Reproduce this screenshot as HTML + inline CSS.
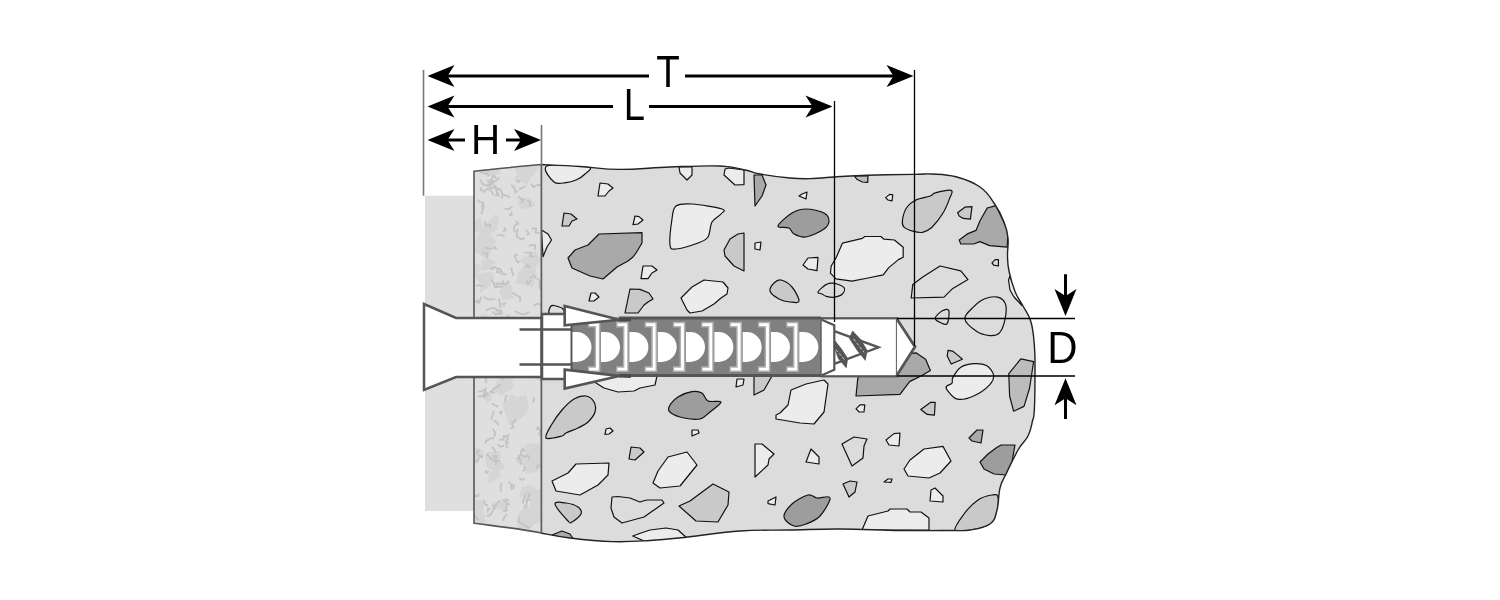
<!DOCTYPE html>
<html><head><meta charset="utf-8"><style>
html,body{margin:0;padding:0;background:#fff;width:1500px;height:600px;overflow:hidden}
svg{display:block;filter:grayscale(1)}
</style></head><body>
<svg width="1500" height="600" viewBox="0 0 1500 600">
<defs>
<filter id="tex" x="0" y="0" width="100%" height="100%">
<feTurbulence type="fractalNoise" baseFrequency="0.06" numOctaves="2" seed="3"/>
<feColorMatrix type="matrix" values="0 0 0 0 0.85  0 0 0 0 0.85  0 0 0 0 0.85  2.5 0 0 0 -1"/>
</filter>
<clipPath id="pc"><path d="M474,171.2 C500,169 520,166 541.5,164.5 L541.5,533 C515,528 495,526 474,523.2Z"/></clipPath>
<clipPath id="cc"><path d="M541,164.5 C548.8,164.9 564.2,165.5 580,166.5 C595.8,167.5 602,169.3 620,169.4 C638,169.5 650,167.7 670,167 C690,166.3 705,165.4 720,166 C735,166.6 737,168.4 745,170 C753,171.6 751,172.4 760,174 C769,175.6 780,177.1 790,178 C800,178.9 800,178.9 810,178.6 C820,178.3 828.4,177.2 840,176.5 C851.6,175.8 853.2,175.6 868,175.2 C882.8,174.8 901.2,174.6 914,174.4 C926.8,174.2 923.6,173.5 932,174 C940.4,174.5 946.4,174.2 956,176.8 C965.6,179.4 972.4,181.8 980,187 C987.6,192.2 989.2,196 994,203 C998.8,210 1001.2,215 1004,222 C1006.8,229 1007.3,231.2 1008,238 C1008.7,244.8 1007.3,249.4 1007.5,256 C1007.7,262.6 1007.5,263.9 1009,271 C1010.5,278.1 1012.2,284.6 1015,291.6 C1017.8,298.6 1019.8,299.9 1023,306 C1026.2,312.1 1028.7,314 1031,322 C1033.3,330 1033.6,336.4 1034.4,346 C1035.2,355.6 1035,357.4 1035,370 C1035,382.6 1034.9,398.8 1034.4,409 C1033.9,419.2 1033.8,415.6 1032.5,421 C1031.2,426.4 1030.9,430.2 1028,436 C1025.1,441.8 1022.4,442.4 1018,450 C1013.6,457.6 1009.6,466.4 1006,474 C1002.4,481.6 1001.8,480.8 1000,488 C998.2,495.2 999,502.8 997,510 C995,517.2 995.4,520 990,524 C984.6,528 978,528.7 970,530 C962,531.3 964,530.4 950,530.5 C936,530.6 922,530.8 900,530.5 C878,530.2 862,529.1 840,529 C818,528.9 810,529.6 790,530 C770,530.4 760.4,529.6 740,531 C719.6,532.4 706,535.1 688,537 C670,538.9 665.2,539.6 650,540.5 C634.8,541.4 628,542.1 612,541.6 C596,541.1 584.2,539.7 570,538 C555.8,536.3 546.8,534 541,533Z"/></clipPath>
</defs>
<rect x="425" y="195.7" width="49" height="315.3" fill="#dfdfdf"/>
<path d="M474,171.2 C500,169 520,166 541.5,164.5 L541.5,533 C515,528 495,526 474,523.2Z" fill="#dfdfdf"/>
<g clip-path="url(#pc)"><path d="M499.6,220.9 L497.6,225.9 L490.8,225.2 L490.7,219.4 L496.3,213.4Z M493.6,246.7 L486.6,258.7 L474.3,252.3 L471.6,244.4 L482.8,241.3Z M520.1,402.2 L517.1,406.5 L511.8,408.9 L506,405.3 L509.1,399.7 L510.5,394.3 L515.7,396.8Z M512,293.5 L514.2,298.5 L508.7,299.6 L502.8,299.8 L499,290.8 L503.7,286.6 L508.1,283.8 L512.6,287.1Z M545.9,511.1 L542.2,521.9 L531.9,525 L521.2,523.6 L517.7,515.9 L523.7,506.7 L533,506.3 L541.2,503.9Z M506.2,504 L503.9,510.8 L498.8,509 L496.3,508.2 L491.6,502.3 L496.2,501.9 L499.1,499.7 L504.4,499.6Z M497.8,167.1 L500.6,173.3 L486.8,177.2 L482.2,172.1 L476.4,163.5 L483.3,158.5 L489.2,157.7 L495.9,160.2Z M488.3,528.9 L488.4,531.5 L485.7,535.1 L480,537.2 L479.7,529 L479.6,525.9 L483.9,524.9 L492.4,524.1Z M512.8,345.2 L507.4,351.3 L501,346.8 L501.4,339.5 L508.7,335.8Z M536.5,273.9 L533.6,287.2 L515.6,283.2 L519.7,271.1 L534.4,261.4Z M545.4,461.4 L539,467.5 L536.5,472 L526,473.9 L523.5,460.3 L525.8,449.1 L536.6,453.6 L538.9,456.2Z M496.5,241.7 L490.4,249.6 L474,245 L478.3,234.2 L486.2,229Z M500.7,462.1 L505.9,468.5 L497.7,470.8 L487.7,468.8 L485,460.6 L485.8,452.5 L493,452 L500.5,451.1Z M535.7,205.6 L528.9,208.4 L521.8,209.3 L517.5,202.7 L521.2,198 L529.9,197.5Z M512.3,382.7 L514.6,387.5 L501,395.5 L493,390.8 L496.3,382.6 L499.1,374.8 L500.7,367.3 L512.9,372.6Z M537.4,490.6 L530.6,499.2 L519.2,496.4 L521.5,487.2 L530.6,484.7Z M531.6,330.9 L528.9,343.5 L518.7,344.8 L516.8,339.8 L513.4,332.8 L513.4,325.5 L521.6,325.3 L525.9,327.4Z M537.3,514.7 L535.1,518.7 L527.2,519 L519.9,513.9 L522.3,511.1 L527.1,507.1 L530.9,507.8Z M531.5,170 L530.1,179.1 L527.5,184.6 L513.7,179.5 L517.3,173.9 L514.4,166.8 L523.3,166.3 L532.4,163.2Z M541.1,260.8 L536,267 L526.9,266 L523.9,258.9 L526.9,256.4 L535.4,250.8Z M496.1,261.9 L487.1,270 L480.6,269.8 L481.4,260.2 L487.3,257.4Z M494.2,278.8 L489.3,286.9 L479.6,293.3 L481,284.1 L472.7,274.4 L483.5,273.1 L491.8,271.6Z M528.6,406.8 L526.6,413.6 L515.1,423.4 L508.5,423.9 L502.2,403 L505.8,400.9 L521.6,395.8 L526.3,394.7Z M504.6,352.9 L504.8,357.5 L499.2,361.2 L486.1,359.9 L492.9,350.2 L498.6,344.5 L502.6,344.4Z M480.9,269 L477.9,273 L472.6,273.8 L468.1,269.2 L469,260.7 L479.7,264.4Z M548.4,456.6 L547.1,462.9 L540.1,469.7 L527.7,462.3 L523.3,455.7 L525.8,443.9 L538.8,442.9 L542.4,451.4Z M528.1,458.4 L522.8,465.5 L519.7,463.5 L515.5,462 L518.5,456.5 L523.3,456.9Z M552.5,493.9 L542.9,503.2 L530.6,506.2 L528.2,491.5 L546,488.4Z M511.7,343.2 L505.1,347 L497.6,356.3 L488.3,348.8 L491.7,341.1 L493.9,329.7 L508.2,332.8Z M504.8,358.2 L497.1,361.7 L494,364.8 L488.3,360.6 L478.6,356.1 L487.9,348.8 L494.9,343.8 L494.8,351.1Z M532.5,263.1 L529.3,268.8 L525.5,270.6 L522.7,263.5 L519.7,260.9 L524.7,256.7 L528.5,256.9Z M501,475.2 L494,481.7 L487.8,483.6 L489.3,473.6 L496.3,465.5Z M483.1,506.4 L483.2,519 L475.5,524.9 L466.6,512.2 L463.1,498.5 L473.8,500.5 L484,499.8Z M548.7,366.4 L542.9,381.7 L530.5,377.5 L520.8,374.2 L528.2,362 L539.5,361.7Z M533.9,524.9 L528.5,531.1 L523.8,531.4 L515.4,531 L518,522.4 L522,516.1 L530.8,518.9Z M498.5,228.8 L490.5,233.7 L481.7,232.5 L484.1,225.5 L490,220Z M514.5,377.5 L509.5,381.8 L506.9,382.4 L502,380.5 L501,371.9 L507.4,373.8 L510.3,370.4Z M544.6,339.6 L541.1,346 L536,344.1 L535.2,343.3 L530.9,340 L534,334.5 L537.8,333.5 L541.1,336Z M484.4,451.2 L475.7,465.3 L468.1,462.6 L466.6,453.4 L464.6,443.3 L475.6,447Z M540.5,163.9 L534,174.7 L525.9,179.1 L520,173.7 L522.3,161.2 L522.1,148.8 L535.1,159.3Z M493,320.3 L492.6,328.3 L486.7,331.1 L480.2,324.2 L477.2,319.2 L484,313.2 L489.8,317.3Z M537,276.5 L530.3,279.5 L526.2,288.3 L524.1,279.3 L517.5,273.6 L522.5,268.2 L526.7,261.8 L531.3,268.8Z M484.1,228.5 L481.7,231.8 L473.3,231.8 L471.1,226.8 L471.9,222.5 L480,217.5Z M486.2,522.9 L481.1,526.8 L475.6,526.7 L471.2,521.6 L473.2,513.5 L483.9,513.5Z M492,395.4 L490.9,400.3 L487.5,404.1 L485.7,399.9 L482.5,394.7 L483.1,392.3 L488.1,391.8 L491.9,390.2Z" fill="#d5d5d5"/>
<path d="M533,396.9 L534.3,399.3 L532.7,402.6 M524.6,451.4 L522.5,448.3 L520.7,452.8 L522.6,456.5 M487.1,257.6 L487.5,253.2 L484.5,253.8 L482.6,251.3 M481.9,186.9 L480.5,190.1 L483.1,190.8 L485.2,192.9 M503.3,521 L504,517.5 L506.9,514.4 M522.9,471.4 L524.9,469 L524.1,465.9 M493.2,266.1 L493,269 L489.2,268.3 M497.6,313.6 L501.7,313.9 L501.3,310.3 L499.2,311.7 L497.8,308.9 M504.9,305.9 L502.6,304 L506.3,302.5 M533.8,305.3 L537.9,303.6 L540.3,304.4 L542.8,307.9 M499,188.1 L501.1,190.4 L502.3,194.4 M490.2,179 L490.5,183 L492.9,182.1 L496.4,180.7 L499.5,177.5 M517.8,229.1 L516.6,233.1 L516.9,236.3 L520.8,239.2 L524.7,238.5 M499.4,320.8 L502.8,320 L506.7,317.1 L508.5,314.8 M484.8,206.7 L482,205.8 L483,209.5 L481.3,214 M483.3,392.8 L485.5,395.4 L487.9,393.7 L485.1,391.7 L485.9,387.3 M526.3,280.6 L528.1,283.8 L531.1,280 M501.3,491.5 L500.4,486.9 L501.7,483.1 M489.8,340.5 L486,340.7 L483.6,342.1 M492.8,428.7 L495.2,432.7 L494.2,436.7 M497.5,311.4 L495,308.1 L491.9,307.8 L488.8,309.1 L486,310.2 M478.2,520.1 L475.6,516.6 L473.4,514.5 L471.2,512.9 M485.7,325.7 L489.1,328 L489.5,325.2 L492.5,326.6 M521.2,203 L524,199.5 L521.4,199.1 L518.1,196.5 M484.6,221.1 L485.9,225.7 L490.3,224.8 L489.9,227.5 M499.1,439.7 L503.6,439.7 L503.6,435.9 L506.5,436.8 L509.3,434.2 M497.1,187.9 L496.6,191 L498.5,193.9 M525.5,267.5 L527.7,264.9 L530.5,267.7 M512.8,483.9 L514,487.2 L511.4,489 L511.3,485 L508.7,481.5 M504.5,236.9 L501.5,234.6 L496.7,235.6 M530.2,500 L527.7,499.2 L526.5,503.1 L526.4,506.8 L523.6,506.3 M491.6,403.6 L494.6,405 L497.9,406.9 M502.8,280.4 L503.5,284 L508.2,283 L508.8,280.2 M483.7,398.4 L484.8,395.4 L480.8,396.4 L477.4,396.3 M516.7,330.3 L519.4,329.1 L517.1,327.8 L517.1,330.8 L521.9,331.1 M484.3,389.4 L481.8,391.1 L478.1,391.5 M516.5,459.7 L519.3,456.7 L520.2,460.9 L521.4,464.6 M500.5,327.8 L503.7,329.6 L505.8,327.8 M491.9,188.6 L488.7,185 L486.1,185.5 L482.2,183.9 L480.5,179.4 M536.3,278.5 L533.9,275.6 L529.9,278.2 M528.5,246 L531.8,244.8 L535.2,245.1 L534.9,249.9 M536.9,469.5 L537.5,465.3 L541.1,465.9 L542.7,469.5 M496.5,249.2 L495,246.6 L493.5,249 M515.3,231.6 L513.7,229.6 L514.6,225.6 L518.4,223.5 L515.4,220.8 M499.8,461.1 L495.2,460.7 L496.8,456.1 L493.9,455.6 L493.7,458.1 M528.9,459.2 L528.3,455.6 L523.9,456.4 L521,455 L518,455.8 M499.1,500.5 L496.8,504.3 L493.7,506.4 L493.5,510.7 M525.3,185.9 L521.7,188.2 L518.9,189.4 M529.7,206.8 L530.3,203 L527.3,199.9 M481.2,296.7 L480.3,299.5 L479.2,302.7 L476.1,302.1 L477.9,299.4 M490.9,419.8 L492.4,415.7 L493.9,410.9 M511.7,211.6 L511.5,215.1 L508.8,214.6 M531.3,183.8 L533.5,187 L537.9,184.8 L542.7,185.3 M485.6,382.9 L486.5,379.7 L485.1,377.1 L488.6,374.9 L491.2,376.3 M504.3,445.7 L500.3,446.7 L497.3,444.4 M494,439.2 L491.6,437.7 L488.8,439.5 L486.2,440.9 L485.2,443.7 M536.5,430.1 L538,427 L540.4,430.8 L538.8,434 L541.9,436.6 M484.4,247.3 L488.8,248.6 L491.9,248.6 M536.9,278.7 L539.8,280.6 L539.4,285.4 L540.2,289.2 M522.9,322.4 L520.6,326.4 L516.9,328 L517,331 L520.6,330.6 M493.6,420.2 L497.2,422.6 L498.5,425.4 M503.4,334.3 L500.6,331.2 L504.4,328.3 L504.8,325.8 M527.9,492.9 L529.8,495.1 L527.4,499.3 L525.8,501.5 M512.5,364.4 L509.2,367.5 L508.5,370.7 L505,371.7 L505.9,368.9 M508.8,501.4 L507,499.5 L503.6,500.2 L506,502.8 L509.8,504.7 M499.1,267.8 L501.9,271.8 L496.9,272.3 L498.2,268.9 L493.9,266.8 M482.1,454.4 L482.4,457.5 L479.3,456.2 L476.8,452.4 L479.5,449.9 M495.7,366.9 L500.2,367.6 L502.4,364.9 L501.1,361.6 M489.2,175.9 L486.2,173.1 L482.5,173.2 L480.1,171.8 M531.8,228.5 L536.4,228.3 L535.6,232.7 L540.2,233.4 M516,180.2 L518.3,182.4 L519.8,180 M492,446.7 L494.2,449.4 L496.2,452.9 M519.3,517 L518.1,521.4 L521.8,523.5 L525.3,526.1 L529.7,527.8 M511.3,267.6 L512.1,271.4 L513.5,275.9 M520,261.3 L517.8,262.5 L515.8,259.5 L514.6,255.5 L517.7,254.2 M503.1,511.2 L507.2,510.6 L505.6,508.6 L507.3,503.9 L510,504.3 M507.1,440 L505.9,443.9 L507.7,448.2 M500,341.1 L497.6,343.5 L498.4,346 M495.3,299.3 L492.2,299.4 L487.2,299.4 L483.8,296.5 M497.9,286 L496,284 L499.5,283.5 L503,283.9 L506.1,285.3 M484.5,191.2 L487.8,188.8 L491.7,191.6 L493.4,195.2 M515.6,418.7 L514.7,421.2 L511.5,423.6 L513.5,427.3 L510.3,428.8 M484,500.7 L484.9,504.5 L488,505.4 M503.3,286.5 L498.5,286.9 L494.8,287.3 L493.7,283 L491.3,279.5 M502.3,198.5 L502.1,193.7 L505.3,195.5 L508.1,195.8 L510.3,197.9 M487.1,180.4 L490.7,183.9 L488.5,186.1 L491.4,188.4 L495.1,187.2 M505,435.5 L508.3,438.3 L505.5,441.6 L509.1,443.3 M520.6,336.2 L521,338.8 L523.1,337.2 L525.3,340.7 M515.1,311.1 L519.2,313.3 L521.6,314.4 L525.5,313.9 L529.3,312.1 M486.7,454.1 L489.8,457.3 L493.2,460.2 L496,461.7 L495.9,465 M494.8,392.6 L490.9,391.8 L493.9,388.4 L497,387.2 L500.6,384.1 M500.6,414.7 L501.9,411.8 L498.8,412.4 M503.4,380.3 L501.9,377.8 L506.6,376 M486.8,516.4 L491.1,514.2 L492.2,511.8 L495,508.3 L492.4,504.8 M533.9,256.9 L529.7,256 L531.7,252.6 L528.2,252.8 L524.4,252.4 M499.3,196.9 L497.2,192.7 L495.9,189.3 L495.9,186.3 L493.1,185.6 M520.1,302 L520.4,297.4 L516.2,295 L512.1,292.8 M500.3,337.2 L502.3,339.9 L503.6,342.1 L506.2,337.8 M530,345.2 L532.1,342.8 L528.9,341 L526.5,337.8 M485.9,470.3 L485.8,472.9 L488.9,471.4 M520.3,345.4 L523.7,347.8 L520.3,350.4 M483.4,286.5 L479.4,285.2 L475.9,285.7 M487.6,513 L487.9,508.2 L490.3,509.3 M511.2,184.7 L514.3,187.6 L515.2,192.5 L517.6,191 M523.3,503.8 L523.1,500.2 L525.1,497.2 L525.3,493.7 M500.5,307.9 L499.9,303.2 L498.7,298.6 M525.9,229.9 L529,233.5 L526.6,235 M504.8,208.9 L508.4,209.4 L512.2,206.8 M506.7,394.9 L505.6,397.6 L504.9,402.3 M504.3,227.3 L505.7,230.1 L502.9,231.8 M488.1,346.9 L492.8,348.3 L492.4,343.6 L494.3,341.2 M506.6,275.2 L503.6,273.3 L500.9,274.8 M492.3,311.6 L495.7,314.2 L500.5,313 M479,457.5 L477.6,461.7 L475.1,459.6 M499.6,189.2 L496.9,189.9 L497.3,194.3 L495.1,196.3 M482.8,205.6 L483.5,202.8 L479.4,201.8 L477.4,199.7 M496.5,178.5 L493.5,175.4 L491.7,179.6 L493.1,183.9 L489.5,185 M478.9,493.6 L477.8,496.3 L474.5,495.4 L473.3,498.6 L471.5,500.3 M509.2,331 L506.5,332.6 L503.6,328.8 M524.7,478.8 L522.2,480 L519.2,478" fill="none" stroke="#c3c3c3" stroke-width="1.8" stroke-linejoin="round"/></g>
<path d="M474,171.2 C500,169 520,166 541.5,164.5 L541.5,533 C515,528 495,526 474,523.2Z" fill="none" stroke="#555" stroke-width="1.6"/>
<path d="M541,164.5 C548.8,164.9 564.2,165.5 580,166.5 C595.8,167.5 602,169.3 620,169.4 C638,169.5 650,167.7 670,167 C690,166.3 705,165.4 720,166 C735,166.6 737,168.4 745,170 C753,171.6 751,172.4 760,174 C769,175.6 780,177.1 790,178 C800,178.9 800,178.9 810,178.6 C820,178.3 828.4,177.2 840,176.5 C851.6,175.8 853.2,175.6 868,175.2 C882.8,174.8 901.2,174.6 914,174.4 C926.8,174.2 923.6,173.5 932,174 C940.4,174.5 946.4,174.2 956,176.8 C965.6,179.4 972.4,181.8 980,187 C987.6,192.2 989.2,196 994,203 C998.8,210 1001.2,215 1004,222 C1006.8,229 1007.3,231.2 1008,238 C1008.7,244.8 1007.3,249.4 1007.5,256 C1007.7,262.6 1007.5,263.9 1009,271 C1010.5,278.1 1012.2,284.6 1015,291.6 C1017.8,298.6 1019.8,299.9 1023,306 C1026.2,312.1 1028.7,314 1031,322 C1033.3,330 1033.6,336.4 1034.4,346 C1035.2,355.6 1035,357.4 1035,370 C1035,382.6 1034.9,398.8 1034.4,409 C1033.9,419.2 1033.8,415.6 1032.5,421 C1031.2,426.4 1030.9,430.2 1028,436 C1025.1,441.8 1022.4,442.4 1018,450 C1013.6,457.6 1009.6,466.4 1006,474 C1002.4,481.6 1001.8,480.8 1000,488 C998.2,495.2 999,502.8 997,510 C995,517.2 995.4,520 990,524 C984.6,528 978,528.7 970,530 C962,531.3 964,530.4 950,530.5 C936,530.6 922,530.8 900,530.5 C878,530.2 862,529.1 840,529 C818,528.9 810,529.6 790,530 C770,530.4 760.4,529.6 740,531 C719.6,532.4 706,535.1 688,537 C670,538.9 665.2,539.6 650,540.5 C634.8,541.4 628,542.1 612,541.6 C596,541.1 584.2,539.7 570,538 C555.8,536.3 546.8,534 541,533Z" fill="#dcdcdc"/>
<g stroke="#111" stroke-width="1.2" stroke-linejoin="round" clip-path="url(#cc)">
<path d="M547,166 C541.3,168.5 550.8,179.2 554,182 C557.2,184.8 562.3,182.9 566,182.6 C569.7,182.3 572.8,181.4 576,180 C579.2,178.6 583,176.2 585,174 C587,171.8 594.3,168.3 588,167 C581.7,165.7 552.7,163.5 547,166Z" fill="#ececec"/>
<path d="M600,183 L598,196 L605,196 L609,191 L613,188 L608,184Z" fill="#ececec"/>
<path d="M564,213 L562,226 L569,226 L572,221 L577,219 L571,214Z" fill="#c9c9c9"/>
<path d="M635,216 L633,224.6 L638,224 L643,220 L639,216.6Z" fill="#ececec"/>
<path d="M568,258 L575,250 L588,245 L599,234 L642,232.7 L642,243 L636,253 L633,257 L628,261 L617,267 L603,279 L590,276 L572,268Z" fill="#a9a9a9"/>
<path d="M541.5,230 L548,234 L551.5,240 L547,247 L543,256.7Z" fill="#ececec"/>
<path d="M676,206 C679.3,203.5 684.3,203.5 692,204 C699.7,204.5 717.2,207.3 722,209 C726.8,210.7 722.7,211.8 721,214 C719.3,216.2 714.2,218.2 712,222 C709.8,225.8 710.3,233.5 708,237 C705.7,240.5 703.3,241 698,243 C692.7,245 680.7,248.7 676,249 C671.3,249.3 670.7,250 670,245 C669.3,240 671,225.5 672,219 C673,212.5 672.7,208.5 676,206Z" fill="#ececec"/>
<path d="M679,167 L680,173 L687,180 L692,175 L692,167Z" fill="#ececec"/>
<path d="M725,169 L724,175 L735,185 L744,184.6 L744,170 L729,168Z" fill="#ececec"/>
<path d="M754,175 L755,206 L762,196 L766,185 L762,175Z" fill="#a9a9a9"/>
<path d="M799,196 L806,199 L807,192 L802,194Z" fill="#ececec"/>
<path d="M778,226 C778.5,223.5 787.3,215.8 792,213 C796.7,210.2 800.7,209 806,209 C811.3,209 820.2,211 824,213 C827.8,215 829,218.3 829,221 C829,223.7 827.8,226.3 824,229 C820.2,231.7 811,236.2 806,237 C801,237.8 796.8,235.5 794,234 C791.2,232.5 791.7,229.3 789,228 C786.3,226.7 777.5,228.5 778,226Z" fill="#9d9d9d"/>
<path d="M744,233 L744,271 L734,266 L725,256 L724,250 L730,239 L738,234Z" fill="#c9c9c9"/>
<path d="M755,243 L761,242 L760,250 L755,249Z" fill="#ececec"/>
<path d="M808,258 L818,257.4 L817,270.6 L808,269 L803,265Z" fill="#ececec"/>
<path d="M643,266 L641,278.6 L648,278.6 L652,273 L657,270 L652,266Z" fill="#ececec"/>
<path d="M591,293 L589,301 L594,301 L599,297 L595,293Z" fill="#ececec"/>
<path d="M630,289 L625,313 L638,313 L644,305 L648,302 L653,299 L649,293 L640,289.4Z" fill="#c9c9c9"/>
<path d="M551,306 C549.9,307.3 547.5,312.7 549.5,314 C551.5,315.3 560.8,314.8 563,314 C565.2,313.2 564.2,310.3 563,309 C561.8,307.7 558,306.5 556,306 C554,305.5 552.1,304.7 551,306Z" fill="#dcdcdc"/>
<path d="M704,280 L723,282 L728,288 L727,294 L721,298 L714,304 L702,311 L690,313 L687,310 L681,298 L692,287Z" fill="#ececec"/>
<path d="M781,280 C784,280.7 789,283.5 792,287 C795,290.5 799.3,298.5 799,301 C798.7,303.5 793.3,302.3 790,302 C786.7,301.7 782.3,300.8 779,299 C775.7,297.2 770.8,293.7 770,291 C769.2,288.3 772.2,284.8 774,283 C775.8,281.2 778,279.3 781,280Z" fill="#c9c9c9"/>
<path d="M818,292 C818.7,290.4 823.7,285.8 826.4,284.4 C829.1,282.9 831.5,282.8 834.4,283.3 C837.3,283.8 842.7,285.8 844,287.6 C845.3,289.4 844,292.4 842.4,294 C840.8,295.6 837.1,296.8 834.4,297.2 C831.7,297.6 828.5,296.9 826.4,296.4 C824.3,295.9 823.4,294.7 822,294 C820.6,293.3 817.3,293.6 818,292Z" fill="#dcdcdc"/>
<path d="M854.4,176 L856.8,179.2 L862.4,182 L867.7,182.4 L868,176Z" fill="#bdbdbd"/>
<path d="M885.6,197.6 L889.6,194.4 L892.8,194.9 L892,200.8 L888,200Z" fill="#ececec"/>
<path d="M902.4,220.8 C902.8,217.6 904.1,211.5 906.4,208 C908.7,204.5 912,202 916,200 C920,198 927.2,197.2 930.4,196 C933.6,194.8 931.7,193.7 935.2,192.8 C938.7,191.9 948.8,189.5 951.2,190.4 C953.6,191.3 950.9,194.7 949.6,198.4 C948.3,202.1 946.1,208 943.2,212.8 C940.3,217.6 935.5,223.9 932,227.2 C928.5,230.4 925.6,231.6 922.4,232.3 C919.2,233 915.9,232 912.8,231.2 C909.7,230.3 905.7,228.9 904,227.2 C902.3,225.5 902,224 902.4,220.8Z" fill="#c9c9c9"/>
<path d="M957.6,212.8 L964.8,207.2 L972,206.7 L970.4,219.2 L963.2,218.4 L959.2,216Z" fill="#c9c9c9"/>
<path d="M996,205.6 L987.2,208 L980,220.8 L976,230.4 L968,233.6 L959.2,240 L960.8,244 L973.6,244 L980,241.6 L989.6,245.6 L1007.2,247.2 L1008,232 L1004,222.4Z" fill="#a9a9a9"/>
<path d="M842.4,243.2 L862.4,238.4 L864.8,236.5 L880.8,236.5 L884,239.2 L894.4,240 L903.2,247.2 L903.2,257.2 L898.4,259.6 L893.6,263.6 L888.8,267.6 L883.2,274.8 L868,278 L852,281.2 L836,278.8 L830.4,273.2 L831.2,266 L836,258Z" fill="#ececec"/>
<path d="M911.2,298 L912.8,284.4 L922.4,277.2 L940,266 L960.8,270.8 L968,279.6 L952.8,288.4 L944,297.2Z" fill="#dcdcdc"/>
<path d="M992,262.8 L995.2,259.6 L998.4,259.6 L998.4,266 L993.6,265.2Z" fill="#dcdcdc"/>
<path d="M935.2,318 C935.5,316 940.1,312.1 942.4,310.8 C944.7,309.6 948,308.4 948.8,310.5 C949.6,312.6 948.5,321.6 947.2,323.6 C945.9,325.7 942.8,323.7 940.8,322.8 C938.8,321.9 934.9,320 935.2,318Z" fill="#dcdcdc"/>
<path d="M964.8,318.8 C964.3,314.7 970.3,310.1 973.6,306.8 C976.9,303.5 980.8,300.4 984.8,298.8 C988.8,297.2 994.1,296.3 997.6,297.2 C1001.1,298.1 1004.4,300.5 1005.6,304.4 C1006.8,308.3 1005.9,315.6 1004.8,320.4 C1003.7,325.2 1001.7,330.7 999.2,333.2 C996.7,335.7 993.3,335.9 989.6,335.6 C985.9,335.3 980.9,334.4 976.8,331.6 C972.7,328.8 965.3,322.9 964.8,318.8Z" fill="#dcdcdc"/>
<path d="M1008.5,280 L1010,290 L1014,297 L1022,305.5 L1015.5,291 L1010,276Z" fill="#ececec"/>
<path d="M909.6,353.6 L916,352.8 L925.6,359.2 L930.4,370.4 L922.4,375.2 L909.6,381.6 L900,394.4 L856,396 L857.6,380 L860,370 L900,350Z" fill="#a9a9a9"/>
<path d="M948,350.4 L952.8,351.2 L956.8,354.4 L962.4,359.2 L951.2,364 L947.2,356Z" fill="#c9c9c9"/>
<path d="M952.8,377.6 C954.3,374.9 957.3,369.5 960.8,367.2 C964.3,364.9 969.3,364 973.6,363.7 C977.9,363.4 983.1,363.7 986.4,365.6 C989.7,367.5 993.1,372 993.6,375.2 C994.1,378.4 992.9,381.3 989.6,384.8 C986.3,388.3 978.9,393.6 973.6,396 C968.3,398.4 961.9,400 957.6,399.2 C953.3,398.4 949.9,393.3 948,391.2 C946.1,389.1 945.7,387.7 946.4,386.4 C947.1,385.1 950.9,384.7 952,383.2 C953.1,381.7 951.3,380.3 952.8,377.6Z" fill="#ececec"/>
<path d="M1008.8,373.6 L1020.8,358.9 L1033.6,361.6 L1029.6,388 L1024,406.4 L1013.6,411.2 L1009.6,396Z" fill="#bcbcbc"/>
<path d="M856,408.8 L860,404.8 L864.8,404.8 L864,412 L859.2,412Z" fill="#ececec"/>
<path d="M920.8,409.6 L930.4,402.4 L935.2,402.4 L934.4,415.2 L927.2,414.4Z" fill="#c9c9c9"/>
<path d="M776,415 L780,413 L788,405 L791,390 L806,384 L824,380 L828,384 L824,412 L814,424 L800,423 L776,419Z" fill="#ececec"/>
<path d="M842,444 L854,437 L867,439 L864,446 L863,458 L852,466Z" fill="#dcdcdc"/>
<path d="M886,440 L894,433.6 L900,433 L899,446 L889,445Z" fill="#ececec"/>
<path d="M904,469 L910,460 L924,449 L943,446.4 L951,461 L940,473 L929,478 L908,476Z" fill="#ececec"/>
<path d="M884,482 L888,479 L892,479 L891,482.4Z" fill="#ececec"/>
<path d="M843,484 L850,481 L857,482 L855,492 L849,497Z" fill="#c9c9c9"/>
<path d="M931,490 L935,488 L943,496 L943,502 L930,501Z" fill="#ececec"/>
<path d="M862,530 L868,516 L888,511 L890,509 L907,509 L910,512 L921,512 L929,518 L929,530Z" fill="#ececec"/>
<path d="M955,531 C953,528.5 960.2,519.2 964,514 C967.8,508.8 973.3,503.2 978,500 C982.7,496.8 988.7,495.5 992,495 C995.3,494.5 997.2,493.8 998,497 C998.8,500.2 997.7,509.8 997,514 C996.3,518.2 997.5,519.5 994,522 C990.5,524.5 982.5,527.5 976,529 C969.5,530.5 957,533.5 955,531Z" fill="#c9c9c9"/>
<path d="M980,462 L988,454 L996,448 L1001,445 L1015,445 L1012,462 L1006,475 L994,474 L984,469Z" fill="#9d9d9d"/>
<path d="M969,438 L977,430 L983,430 L981,443 L972,441Z" fill="#a9a9a9"/>
<path d="M596,383 L604,388 L618,392 L634,391 L640,388 L655,385 L657,376 L590,376Z" fill="#ececec"/>
<path d="M546,438 C544.3,436 549.3,428.7 552,424 C554.7,419.3 558.3,414.2 562,410 C565.7,405.8 570,401.3 574,399 C578,396.7 582.7,395.5 586,396 C589.3,396.5 592.5,399.3 594,402 C595.5,404.7 596,408.7 595,412 C594,415.3 590.8,419.3 588,422 C585.2,424.7 581.7,426.2 578,428 C574.3,429.8 568.7,431.7 566,433 C563.3,434.3 565.3,435.2 562,436 C558.7,436.8 547.7,440 546,438Z" fill="#c9c9c9"/>
<path d="M606,429 L610,428 L613,431 L609,434 L605,434.4Z" fill="#ececec"/>
<path d="M669,407 C670.2,404.3 674.2,399.6 678,397 C681.8,394.4 688,392.3 692,391.6 C696,390.9 699.3,391.4 702,393 C704.7,394.6 704.8,399.5 708,401 C711.2,402.5 720.7,400.2 721,402 C721.3,403.8 713.5,409.2 710,412 C706.5,414.8 704.3,418 700,419 C695.7,420 688.8,419 684,418 C679.2,417 673.5,414.8 671,413 C668.5,411.2 667.8,409.7 669,407Z" fill="#9d9d9d"/>
<path d="M692,430 L698,430 L699,433 L692,436Z" fill="#ececec"/>
<path d="M737,379 L744,379 L743,385 L736,387Z" fill="#ececec"/>
<path d="M754,376 L772,376 L764,390 L754,395Z" fill="#c9c9c9"/>
<path d="M629,459 L631,447 L640,448 L644,452 L635,460Z" fill="#c9c9c9"/>
<path d="M552,481 L568,473 L576,464 L609,463 L608,475 L598,485 L580,495 L556,491Z" fill="#ececec"/>
<path d="M653,483 L658,471 L668,457 L687,452 L697,465 L680,486 L660,488Z" fill="#ececec"/>
<path d="M755,444 L762,444 L774,454 L769,459 L768,465 L755,477Z" fill="#ececec"/>
<path d="M806,462 L811,449 L819,457 L819,464Z" fill="#ececec"/>
<path d="M555,504 C554.7,501 562.2,502.5 566,503 C569.8,503.5 575.5,505.2 578,507 C580.5,508.8 582,511.5 581,514 C580,516.5 574.2,520.8 572,522 C569.8,523.2 570.8,524 568,521 C565.2,518 555.3,507 555,504Z" fill="#c9c9c9"/>
<path d="M612,497 L618,496.5 L630,498 L640,502 L643,501 L647,500 L662,500 L664,503 L644,517 L622,523 L614,517 L611,508Z" fill="#dcdcdc"/>
<path d="M679,506 L690,501 L713,484 L729,492 L728,505 L718,522 L696,521Z" fill="#c9c9c9"/>
<path d="M768,501 L776,497 L775,505 L768,503.6Z" fill="#ececec"/>
<path d="M784,517 C783.7,513.3 788,507.7 792,504 C796,500.3 803.8,496 808,495 C812.2,494 813.3,497.5 817,498 C820.7,498.5 829.5,495 830,498 C830.5,501 824,511.7 820,516 C816,520.3 810.3,522.3 806,524 C801.7,525.7 797.7,527.2 794,526 C790.3,524.8 784.3,520.7 784,517Z" fill="#9d9d9d"/>
<path d="M552,535 L562,531 L570,534 L574,540Z" fill="#a9a9a9"/>
<path d="M632.7,536 L641,533 L650,530 L666,528 L678,530 L688,539 L660,548Z" fill="#ececec"/>
</g>
<path d="M541,164.5 C548.8,164.9 564.2,165.5 580,166.5 C595.8,167.5 602,169.3 620,169.4 C638,169.5 650,167.7 670,167 C690,166.3 705,165.4 720,166 C735,166.6 737,168.4 745,170 C753,171.6 751,172.4 760,174 C769,175.6 780,177.1 790,178 C800,178.9 800,178.9 810,178.6 C820,178.3 828.4,177.2 840,176.5 C851.6,175.8 853.2,175.6 868,175.2 C882.8,174.8 901.2,174.6 914,174.4 C926.8,174.2 923.6,173.5 932,174 C940.4,174.5 946.4,174.2 956,176.8 C965.6,179.4 972.4,181.8 980,187 C987.6,192.2 989.2,196 994,203 C998.8,210 1001.2,215 1004,222 C1006.8,229 1007.3,231.2 1008,238 C1008.7,244.8 1007.3,249.4 1007.5,256 C1007.7,262.6 1007.5,263.9 1009,271 C1010.5,278.1 1012.2,284.6 1015,291.6 C1017.8,298.6 1019.8,299.9 1023,306 C1026.2,312.1 1028.7,314 1031,322 C1033.3,330 1033.6,336.4 1034.4,346 C1035.2,355.6 1035,357.4 1035,370 C1035,382.6 1034.9,398.8 1034.4,409 C1033.9,419.2 1033.8,415.6 1032.5,421 C1031.2,426.4 1030.9,430.2 1028,436 C1025.1,441.8 1022.4,442.4 1018,450 C1013.6,457.6 1009.6,466.4 1006,474 C1002.4,481.6 1001.8,480.8 1000,488 C998.2,495.2 999,502.8 997,510 C995,517.2 995.4,520 990,524 C984.6,528 978,528.7 970,530 C962,531.3 964,530.4 950,530.5 C936,530.6 922,530.8 900,530.5 C878,530.2 862,529.1 840,529 C818,528.9 810,529.6 790,530 C770,530.4 760.4,529.6 740,531 C719.6,532.4 706,535.1 688,537 C670,538.9 665.2,539.6 650,540.5 C634.8,541.4 628,542.1 612,541.6 C596,541.1 584.2,539.7 570,538 C555.8,536.3 546.8,534 541,533" fill="none" stroke="#222" stroke-width="1.4"/>
<path d="M541.5,164 V533.5" stroke="#606060" stroke-width="1.5"/>
<path d="M424,304 L456,318 L541.5,318 L541.5,377 L456,377 L424,390Z" fill="#fff" stroke="#555" stroke-width="2.5" stroke-linejoin="miter"/>
<rect x="542" y="314" width="30" height="65" fill="#fff"/>
<path d="M566,314 H542 V379 H566" fill="none" stroke="#555" stroke-width="2.5"/>
<path d="M519.5,329.5H586 M519.5,364.5H586" stroke="#555" stroke-width="2.5"/>
<rect x="571" y="317.5" width="250" height="58.5" fill="#808080"/>
<path d="M619,318 H821 M619,375.5 H821" stroke="#555" stroke-width="3"/>
<path d="M571.5,324 V371" stroke="#555" stroke-width="2"/>
<path d="M572.5,332 H576.5 A15,15 0 0 1 576.5,362 H572.5 Z" fill="#fff"/>
<path d="M601,332 H605 A15,15 0 0 1 605,362 H601 Z" fill="#fff"/>
<path d="M629.4,332 H633.4 A15,15 0 0 1 633.4,362 H629.4 Z" fill="#fff"/>
<path d="M657.7,332 H661.7 A15,15 0 0 1 661.7,362 H657.7 Z" fill="#fff"/>
<path d="M686,332 H690 A15,15 0 0 1 690,362 H686 Z" fill="#fff"/>
<path d="M714.4,332 H718.4 A15,15 0 0 1 718.4,362 H714.4 Z" fill="#fff"/>
<path d="M742.7,332 H746.7 A15,15 0 0 1 746.7,362 H742.7 Z" fill="#fff"/>
<path d="M771,332 H775 A15,15 0 0 1 775,362 H771 Z" fill="#fff"/>
<path d="M799.3,332 H803.3 A15,15 0 0 1 803.3,362 H799.3 Z" fill="#fff"/>
<path d="M587.9,324.7 H597.5 V369.1 H587.9" fill="none" stroke="#b0b0b0" stroke-width="5.8" stroke-linejoin="miter"/>
<path d="M589.2,324.7 H597.5 V369.1 H589.2" fill="none" stroke="#fff" stroke-width="2.8" stroke-linejoin="miter"/>
<path d="M616.2,324.7 H625.8 V369.1 H616.2" fill="none" stroke="#b0b0b0" stroke-width="5.8" stroke-linejoin="miter"/>
<path d="M617.5,324.7 H625.8 V369.1 H617.5" fill="none" stroke="#fff" stroke-width="2.8" stroke-linejoin="miter"/>
<path d="M644.6,324.7 H654.2 V369.1 H644.6" fill="none" stroke="#b0b0b0" stroke-width="5.8" stroke-linejoin="miter"/>
<path d="M645.9,324.7 H654.2 V369.1 H645.9" fill="none" stroke="#fff" stroke-width="2.8" stroke-linejoin="miter"/>
<path d="M672.9,324.7 H682.5 V369.1 H672.9" fill="none" stroke="#b0b0b0" stroke-width="5.8" stroke-linejoin="miter"/>
<path d="M674.2,324.7 H682.5 V369.1 H674.2" fill="none" stroke="#fff" stroke-width="2.8" stroke-linejoin="miter"/>
<path d="M701.2,324.7 H710.8 V369.1 H701.2" fill="none" stroke="#b0b0b0" stroke-width="5.8" stroke-linejoin="miter"/>
<path d="M702.5,324.7 H710.8 V369.1 H702.5" fill="none" stroke="#fff" stroke-width="2.8" stroke-linejoin="miter"/>
<path d="M729.5,324.7 H739.1 V369.1 H729.5" fill="none" stroke="#b0b0b0" stroke-width="5.8" stroke-linejoin="miter"/>
<path d="M730.8,324.7 H739.1 V369.1 H730.8" fill="none" stroke="#fff" stroke-width="2.8" stroke-linejoin="miter"/>
<path d="M757.9,324.7 H767.5 V369.1 H757.9" fill="none" stroke="#b0b0b0" stroke-width="5.8" stroke-linejoin="miter"/>
<path d="M759.2,324.7 H767.5 V369.1 H759.2" fill="none" stroke="#fff" stroke-width="2.8" stroke-linejoin="miter"/>
<path d="M786.2,324.7 H795.8 V369.1 H786.2" fill="none" stroke="#b0b0b0" stroke-width="5.8" stroke-linejoin="miter"/>
<path d="M787.5,324.7 H795.8 V369.1 H787.5" fill="none" stroke="#fff" stroke-width="2.8" stroke-linejoin="miter"/>
<path d="M564.7,306 L619.3,319.8 L564.7,325.3Z" fill="#fff" stroke="#555" stroke-width="2.6" stroke-linejoin="miter" stroke-miterlimit="10"/>
<path d="M564.7,369.6 L619.3,376 L564.7,388.6Z" fill="#fff" stroke="#555" stroke-width="2.6" stroke-linejoin="miter" stroke-miterlimit="10"/>
<path d="M619,319.8 L631,319.6 M619,375.8 L631,376.2" stroke="#4a4a4a" stroke-width="3.5"/>
<rect x="821.5" y="318.3" width="75.5" height="58" fill="#fff" stroke="#555" stroke-width="2.2"/>
<path d="M821.7,319.8 L834.3,325.3 L834.3,369.7 L821.7,375.2" fill="#fff" stroke="#555" stroke-width="2.2"/>
<path d="M896.9,319 L915,346.7 L896.9,375.2" fill="#fff" stroke="#555" stroke-width="2.8" stroke-linejoin="miter"/>
<path d="M835,331.3 L878.6,347.3 L835,363.6" fill="none" stroke="#555" stroke-width="2.3" stroke-linejoin="miter"/>
<path d="M852.5,330.5 L861,339.5 L867.5,350.5 L865.5,361 L857,350.5 L849,338.3Z" fill="#555"/>
<path d="M834.6,340 L841.5,348.4 L848,358.5 L846.5,368.5 L838,358.5 L834.1,347.5Z" fill="#555"/>
<path d="M853.6,339 L864,352.3 M835.8,349.6 L845.3,360.6" stroke="#fff" stroke-width="0.7" stroke-dasharray="3,2"/>
<path d="M423.5,70 V195.7" stroke="#777" stroke-width="1.6"/>
<path d="M541.5,125 V165" stroke="#777" stroke-width="1.6"/>
<path d="M834.5,101 V322" stroke="#000" stroke-width="1.3"/>
<path d="M914.5,70 V346" stroke="#000" stroke-width="1.3"/>
<path d="M897,318.5 H1075 M897,376 H1075" stroke="#000" stroke-width="1.3"/>
<path d="M445,76 H649 M685,76 H895" stroke="#000" stroke-width="3"/>
<path d="M427.5,76 L454.5,65 L447.5,76 L454.5,87Z" fill="#000"/>
<path d="M913.5,76 L886.5,87 L893.5,76 L886.5,65Z" fill="#000"/>
<path d="M445,106.5 H613 M649,106.5 H815" stroke="#000" stroke-width="3"/>
<path d="M427.5,106.5 L454.5,95.5 L447.5,106.5 L454.5,117.5Z" fill="#000"/>
<path d="M832.5,106.5 L805.5,117.5 L812.5,106.5 L805.5,95.5Z" fill="#000"/>
<path d="M445,140 H465 M506,140 H523" stroke="#000" stroke-width="3"/>
<path d="M427.5,140 L454.5,129 L447.5,140 L454.5,151Z" fill="#000"/>
<path d="M541,140 L514,151 L521,140 L514,129Z" fill="#000"/>
<path d="M1065.5,274.3 V300 M1065.5,395 V419" stroke="#000" stroke-width="3"/>
<path d="M1065.5,316 L1054.5,289 L1065.5,296 L1076.5,289Z" fill="#000"/>
<path d="M1065.5,378.3 L1076.5,405.3 L1065.5,398.3 L1054.5,405.3Z" fill="#000"/>
<g font-family="Liberation Sans, sans-serif" font-size="41" fill="#000">
<text transform="translate(668,87.2) scale(0.94,1.065)" text-anchor="middle">T</text>
<text transform="translate(634.3,120.1) scale(0.93,1.06)" text-anchor="middle">L</text>
<text transform="translate(485.5,153.9) scale(0.985,1.02)" text-anchor="middle">H</text>
<text transform="translate(1062.5,362.5) scale(1.023,1.09)" text-anchor="middle">D</text>
</g>
</svg>
</body></html>
